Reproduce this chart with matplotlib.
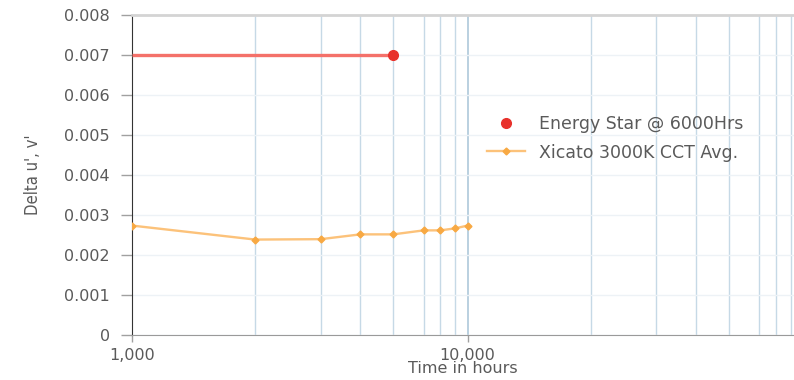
import numpy as np
import matplotlib
matplotlib.use("Agg")
import matplotlib.pyplot as plt
from matplotlib.ticker import FixedLocator, FuncFormatter, NullFormatter

# Colour shift (delta u'v') against operating hours
hours = [1000, 2330, 3650, 4790, 6000, 7400, 8300, 9180, 10000]
xicato_avg = [0.00274, 0.00239, 0.00240, 0.00252, 0.00252, 0.00262, 0.00262, 0.00267, 0.00274]

energy_star_hours = [1000, 6000]
energy_star_limit = [0.007, 0.007]

y_ticks = [0, 0.001, 0.002, 0.003, 0.004, 0.005, 0.006, 0.007, 0.008]
x_major = [1000, 10000]
x_labels = ["1,000", "10,000"]

text_col = "#5a5a5a"

fig = plt.figure(figsize=(7.94, 3.80), dpi=100)
ax = fig.add_axes([0.1662, 0.118, 0.834, 0.842])

ax.set_xscale("log")
ax.set_xlim(1000, 94000)
ax.set_ylim(0, 0.008)

# minor grid lines repeat the measurement spacing in each decade
minor = [h * k for k in (1, 10) for h in hours[1:-1]]
ax.xaxis.set_minor_locator(FixedLocator(minor))
ax.xaxis.set_minor_formatter(NullFormatter())
ax.xaxis.set_major_locator(FixedLocator(x_major))
ax.xaxis.set_major_formatter(FuncFormatter(lambda v, p: x_labels[x_major.index(round(v))] if round(v) in x_major else ""))
ax.set_yticks(y_ticks)
ax.yaxis.set_major_formatter(FuncFormatter(lambda v, p: "0" if v == 0 else f"{v:.3f}"))

ax.grid(axis="x", which="minor", color="#c6d9e6", lw=1.0)
ax.grid(axis="x", which="major", color="#b4cddd", lw=1.3)
ax.grid(axis="y", which="major", color="#edf2f6", lw=1.0)
ax.set_axisbelow(True)

ax.tick_params(axis="y", length=8, width=1, color="#a0a0a0", pad=8, labelsize=11.5, labelcolor=text_col)
ax.tick_params(axis="x", which="major", length=5, width=1, color="#a0a0a0", pad=4, labelsize=11.5, labelcolor=text_col)
ax.tick_params(axis="x", which="minor", length=0)

ax.spines["right"].set_visible(False)
ax.spines["top"].set_color("#d4d4d4")
ax.spines["top"].set_linewidth(2)
ax.spines["bottom"].set_color("#9a9a9a")
ax.spines["left"].set_color("#333333")

# Energy Star limit line with the end point
ax.plot(energy_star_hours, energy_star_limit, color="#f4716a", lw=2.4, solid_capstyle="butt", zorder=3)
ax.plot(energy_star_hours[-1:], energy_star_limit[-1:], "o", color="#e8312b", ms=7,
        ls="none", label="Energy Star @ 6000Hrs", zorder=4)

ax.plot(hours, xicato_avg, color="#fcc27a", lw=1.7, marker="D", ms=3.5,
        mfc="#f8a943", mec="#f8a943", label="Xicato 3000K CCT Avg.", zorder=3)

ax.set_xlabel("Time in hours", fontsize=11.5, color=text_col, labelpad=-1)
ax.set_ylabel("Delta u', v'", fontsize=12, color=text_col, fontstretch="condensed", labelpad=16)

ax.legend(loc="center left", bbox_to_anchor=(0.613, 0.636), bbox_transform=fig.transFigure,
          frameon=False, fontsize=12.5, handlelength=2.2, handletextpad=0.8,
          labelspacing=0.6, borderpad=0, borderaxespad=0, labelcolor=text_col)

fig.savefig("out.png", dpi=100)
